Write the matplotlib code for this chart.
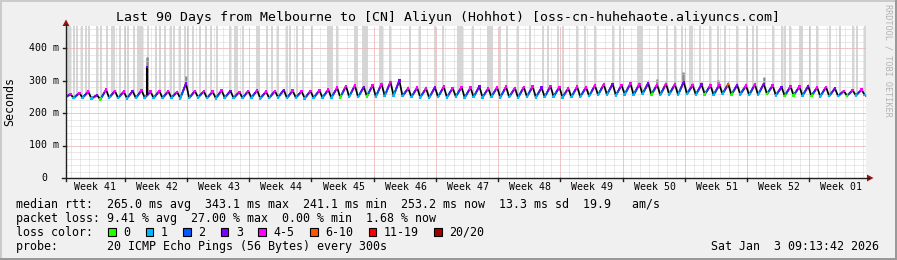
import numpy as np
import matplotlib
matplotlib.use('Agg')
import matplotlib.pyplot as plt
from matplotlib.collections import LineCollection
from matplotlib.lines import Line2D
from matplotlib.patches import Rectangle, Polygon

W, H = 897, 260

title = 'Last 90 Days from Melbourne to [CN] Aliyun (Hohhot) [oss-cn-huhehaote.aliyuncs.com]'
week_labels = ['Week 41', 'Week 42', 'Week 43', 'Week 44', 'Week 45', 'Week 46', 'Week 47',
               'Week 48', 'Week 49', 'Week 50', 'Week 51', 'Week 52', 'Week 01']
y_ticks = [0, 100, 200, 300, 400]
y_tick_labels = ['0', '100 m', '200 m', '300 m', '400 m']

loss_labels = ['0', '1', '2', '3', '4-5', '6-10', '11-19', '20/20']
loss_colors = ['#26ff00', '#00b8ff', '#0059ff', '#7e00ff', '#ff00ff', '#ff5500', '#ff0000', '#a10000']

# median rtt (ms), one daily high and one daily low
start_ms = 250
now_ms = 253.2
peaks = [258, 262, 266, 255, 272, 268, 266, 268, 270, 266,
         268, 267, 265, 291, 268, 267, 266, 270, 268, 265,
         268, 270, 266, 268, 271, 269, 267, 268, 270, 272,
         278, 283, 285, 280, 286, 290, 296, 300, 276, 278,
         276, 279, 281, 277, 280, 278, 282, 276, 279, 281,
         277, 280, 282, 278, 283, 280, 276, 281, 279, 285,
         288, 290, 286, 291, 289, 292, 287, 290, 288, 296,
         286, 288, 285, 287, 289, 286, 284, 288, 290, 285,
         280, 282, 281, 283, 279, 280, 276, 268, 270, 272]
troughs = [246, 247, 245, 241, 247, 246, 245, 246, 247, 246,
           246, 247, 245, 246, 248, 246, 245, 247, 246, 246,
           247, 245, 246, 248, 246, 247, 245, 246, 247, 247,
           248, 250, 249, 251, 250, 252, 253, 252, 249, 248,
           247, 249, 248, 250, 247, 249, 248, 250, 248, 249,
           247, 250, 248, 249, 250, 248, 249, 250, 252, 255,
           256, 254, 257, 255, 258, 256, 255, 257, 256, 258,
           256, 257, 255, 258, 256, 257, 255, 256, 258, 254,
           252, 254, 253, 252, 251, 252, 252, 253, 254, 255]
# loss class index (into loss_colors) at each daily high / low
peak_loss = [4, 4, 4, 3, 4, 4, 4, 3, 4, 4,
             4, 4, 4, 3, 4, 4, 4, 4, 3, 4,
             4, 4, 4, 4, 3, 4, 4, 4, 4, 4,
             4, 4, 4, 3, 4, 4, 4, 3, 4, 4,
             4, 3, 4, 4, 4, 4, 3, 4, 4, 4,
             4, 4, 4, 3, 4, 4, 4, 4, 4, 4,
             4, 3, 4, 4, 4, 3, 4, 4, 4, 3,
             4, 3, 4, 4, 5, 3, 4, 4, 3, 4,
             3, 4, 4, 3, 4, 4, 3, 4, 4, 4]
trough_loss = [1, 1, 1, 0, 1, 1, 1, 1, 1, 1,
               1, 1, 1, 1, 1, 1, 1, 1, 1, 1,
               1, 1, 1, 1, 1, 1, 1, 1, 1, 1,
               0, 1, 1, 0, 1, 1, 1, 1, 1, 1,
               1, 1, 1, 1, 1, 1, 1, 1, 1, 1,
               1, 1, 1, 1, 1, 1, 1, 1, 1, 1,
               1, 1, 1, 1, 1, 0, 1, 1, 1, 1,
               1, 0, 1, 1, 0, 1, 1, 1, 0, 1,
               0, 0, 1, 0, 1, 1, 1, 0, 1, 1]

# single spikes (day, median ms) and smoke tops (day, ms)
spike_day = [9.1]
spike_ms = [343.1]
smoke_top_day = [9.1, 13.5, 69.4, 78.5, 66.5, 73.3]
smoke_top_ms = [373, 314, 326, 312, 305, 303]
# smoke spread above median per week (ms)
smoke_week = [6, 7, 6, 6, 7, 9, 7, 7, 9, 12, 11, 9, 5]

# days where some pings went off the top of the graph
stripe_days = [0.22, 0.45, 0.9, 1.24, 1.8, 2.25, 2.59, 3.49, 3.94, 4.61, 5.17, 5.4, 6.07,
               6.64, 6.97, 7.65, 8.1, 8.32, 8.55, 9.22, 10.12, 10.57, 11.14, 11.81, 12.15,
               12.82, 13.39, 13.72, 14.29, 15.07, 15.75, 16.31, 16.99, 18.45, 19.01, 19.24,
               19.91, 21.49, 21.71, 22.61, 23.17, 23.85, 24.86, 25.2, 25.99,
               26.66, 27.67, 29.47, 29.7, 29.92, 30.49, 32.51, 32.74, 33.41, 33.64, 33.86,
               35.32, 35.55, 36.45, 38.7, 39.82, 41.51, 42.41, 44.1, 44.32, 44.55, 45.79,
               47.47, 47.7, 47.92, 48.82, 49.61, 50.85, 52.2, 53.66, 54.22, 55.35, 55.91,
               57.49, 58.39, 59.51,
               61.54, 62.32, 64.35, 64.57, 64.8, 66.6, 67.61, 68.51, 69.3, 70.2, 70.42,
               71.32, 72.45, 73.35, 74.13, 75.48, 76.61, 77.28, 77.74, 79.54, 80.55, 80.89,
               81.45, 82.57, 82.8, 83.7, 84.49, 85.95, 87.08, 88.54, 88.99, 89.89]

legend_rows = ['median rtt:  265.0 ms avg  343.1 ms max  241.1 ms min  253.2 ms now  13.3 ms sd  19.9   am/s',
               'packet loss: 9.41 % avg  27.00 % max  0.00 % min  1.68 % now',
               'loss color:',
               'probe:       20 ICMP Echo Pings (56 Bytes) every 300s']
date_text = 'Sat Jan  3 09:13:42 2026'

MONO = 'DejaVu Sans Mono'
# plot area in pixels
X0, X1, YB, YT = 66, 866, 178, 26
YMAX = (YB - YT) / 0.325
first_midnight = 0.616  # days from graph start to first midnight
first_week = first_midnight + 6


def fx(x):
    return x / W


def fy(y):
    return 1 - y / H


fig = plt.figure(figsize=(W / 100, H / 100), dpi=100, facecolor='#f0f0f0')
# shaded frame
fig.add_artist(Rectangle((0, fy(2)), 1, 2 / H, transform=fig.transFigure, color='#cbcbcb', lw=0))
fig.add_artist(Rectangle((0, 0), 2 / W, 1, transform=fig.transFigure, color='#cbcbcb', lw=0))
fig.add_artist(Rectangle((0, 0), 1, 2 / H, transform=fig.transFigure, color='#999999', lw=0))
fig.add_artist(Rectangle((1 - 2 / W, 0), 2 / W, 1, transform=fig.transFigure, color='#999999', lw=0))

ax = fig.add_axes([fx(X0), fy(YB), (X1 - X0) / W, (YB - YT) / H])
ax.set_facecolor('white')
ax.set_xlim(0, 90)
ax.set_ylim(0, YMAX)
ax.set_xticks([])
ax.set_yticks([])
for s in ax.spines.values():
    s.set_visible(False)

# series: start, then daily high / low pairs, then now
t_series = [0.0]
v_series = [start_ms]
for k in range(90):
    t_series += [k + 0.5, k + 0.85]
    v_series += [peaks[k], troughs[k]]
t_series.append(90.0)
v_series.append(now_ms)
t_series = np.array(t_series)
v_series = np.array(v_series, dtype=float)

# tall smoke stripes
sb = np.interp(stripe_days, t_series, v_series)
ax.bar(stripe_days, YMAX - sb, bottom=sb, width=0.2, color='#d6d6d6', lw=0, zorder=1)

# smoke around median
spread = np.array([smoke_week[min(int(t // 7), 12)] for t in t_series])
ax.fill_between(t_series, v_series - 3, v_series + spread, color='#b0b0b0', lw=0, zorder=2)
sm_base = np.interp(smoke_top_day, t_series, v_series)
ax.vlines(smoke_top_day, sm_base, smoke_top_ms, color='#8a8a8a', lw=1.8, zorder=2)

# grid
dots = (0, (1, 1))
for d in np.arange(first_midnight, 90, 1.0):
    ax.axvline(d, color='#d4d4d4', lw=0.72, ls=dots, zorder=3)
for v in range(20, int(YMAX), 20):
    ax.axhline(v, color='#d4d4d4', lw=0.72, ls=dots, zorder=3)
for d in np.arange(first_week, 90, 7.0):
    ax.axvline(d, color='#f4a8a8', lw=0.72, ls=dots, zorder=3)
for v in y_ticks[1:]:
    ax.axhline(v, color='#f4a8a8', lw=0.72, ls=dots, zorder=3)

# median line: black base, coloured rise, black fall
ax.plot(t_series, v_series, color='black', lw=1.2, zorder=4)
segs, cols = [], []
pt_, pv_, pc_ = 0.0, start_ms, 1
for k in range(90):
    t2, v2, c2 = k + 0.5, peaks[k], peak_loss[k]
    stages = [pc_, 2, 3, c2]
    n = len(stages)
    for i, c in enumerate(stages):
        a, b = i / n, (i + 1) / n
        segs.append([(pt_ + a * (t2 - pt_), pv_ + a * (v2 - pv_)),
                     (pt_ + b * (t2 - pt_), pv_ + b * (v2 - pv_))])
        cols.append(loss_colors[c])
    pt_, pv_, pc_ = k + 0.85, troughs[k], trough_loss[k]
ax.add_collection(LineCollection(segs, colors=cols, linewidths=1.4, zorder=5, capstyle='butt'))
ax.scatter(np.arange(90) + 0.5, peaks, s=3, marker='s', c=[loss_colors[c] for c in peak_loss], lw=0, zorder=6)
ax.scatter(np.arange(90) + 0.85, troughs, s=3, marker='s', c=[loss_colors[c] for c in trough_loss], lw=0, zorder=6)

# spikes
sp_base = np.interp(spike_day, t_series, v_series)
ax.vlines(spike_day, sp_base, spike_ms, color='black', lw=1.5, zorder=5)
ax.vlines(spike_day, np.array(spike_ms) - 6, spike_ms, color=loss_colors[3], lw=1.5, zorder=6)

# axes lines and arrows
axis_col = '#202020'
fig.add_artist(Line2D([fx(X0), fx(X0)], [fy(181), fy(24)], color=axis_col, lw=1))
fig.add_artist(Line2D([fx(X0 - 4), fx(869)], [fy(YB), fy(YB)], color=axis_col, lw=1))
fig.add_artist(Polygon([(fx(62.5), fy(26)), (fx(69.5), fy(26)), (fx(66), fy(19.5))],
                       closed=True, transform=fig.transFigure, color='#a11010', lw=0))
fig.add_artist(Polygon([(fx(867), fy(174.5)), (fx(867), fy(181.5)), (fx(873.5), fy(178))],
                       closed=True, transform=fig.transFigure, color='#a11010', lw=0))
for d in np.arange(first_week, 90, 7.0):
    xp = X0 + d * (X1 - X0) / 90
    fig.add_artist(Line2D([fx(xp), fx(xp)], [fy(YB), fy(YB + 3)], color=axis_col, lw=1))
for v in y_ticks[1:]:
    yp = YB - v * 0.325
    fig.add_artist(Line2D([fx(X0 - 3), fx(X0)], [fy(yp), fy(yp)], color=axis_col, lw=1))

# tick labels
for v, lab in zip(y_ticks, y_tick_labels):
    yp = YB - v * 0.325
    xr = 59 if v else 47
    fig.text(fx(xr), fy(yp), lab, ha='right', va='center', family=MONO, fontsize=7.1)
for i, lab in enumerate(week_labels):
    d = first_week - 3.5 + 7 * i
    xp = X0 + d * (X1 - X0) / 90
    fig.text(fx(xp + 1), fy(187.5), lab, ha='center', va='center', family=MONO, fontsize=7.1)

fig.text(fx(447.5), fy(18), title, ha='center', va='center', family=MONO, fontsize=9.5)
fig.text(fx(10), fy(102), 'Seconds', ha='center', va='center', rotation=90, family=MONO, fontsize=8.4)
fig.text(fx(887.5), fy(60), 'RRDTOOL / TOBI OETIKER', ha='center', va='center', rotation=270,
         family=MONO, fontsize=6.1, color='#b4b4b4')

# legend block
row_y = [204.5, 218.5, 232, 246.5]
for txt, yy in zip(legend_rows, row_y):
    fig.text(fx(16), fy(yy), txt, ha='left', va='center', family=MONO, fontsize=8.42)
fig.text(fx(879), fy(row_y[3]), date_text, ha='right', va='center', family=MONO, fontsize=8.42)

char_w = 7.04
xb = 108.3
for lab, col in zip(loss_labels, loss_colors):
    fig.add_artist(Rectangle((fx(xb), fy(236)), 7.5 / W, 8 / H, transform=fig.transFigure,
                             facecolor=col, edgecolor='black', lw=0.8))
    fig.text(fx(xb + 15), fy(row_y[2]), lab, ha='left', va='center', family=MONO, fontsize=8.42)
    xb = xb + 15 + len(lab) * char_w + 15.5

fig.savefig('out.png', dpi=100, facecolor=fig.get_facecolor())
